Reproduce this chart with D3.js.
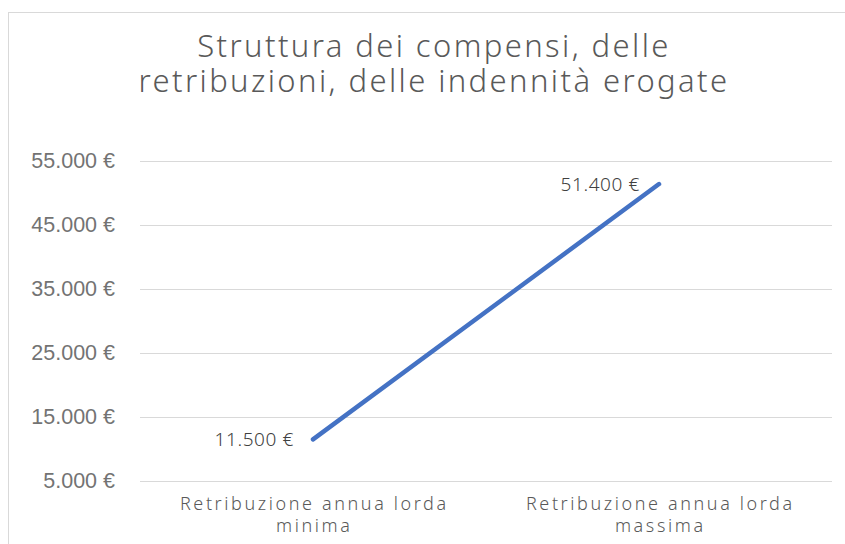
<!DOCTYPE html>
<html>
<head>
<meta charset="utf-8">
<script src="https://cdn.jsdelivr.net/npm/d3@7"></script>
<style>
  body { margin: 0; background: #fff; }
  svg { display: block; }
  .title, .cat, .lbl { font-family: "Noto Sans", "DejaVu Sans", sans-serif; font-weight: 300; }
  .yaxis text { font-family: "Liberation Sans", Arial, sans-serif; }
</style>
</head>
<body>
<div id="chart"></div>
<script>
// data
var categories = ["Retribuzione annua lorda minima", "Retribuzione annua lorda massima"];
var catLines = [["Retribuzione annua lorda", "minima"], ["Retribuzione annua lorda", "massima"]];
var values = [11500, 51400];
var yTicks = [5000, 15000, 25000, 35000, 45000, 55000];
var titleLines = ["Struttura dei compensi, delle", "retribuzioni, delle indennità erogate"];

var width = 845, height = 544;
var margin = {top: 161, right: 13, bottom: 63, left: 140};

var svg = d3.select("#chart").append("svg")
	.attr("width", width)
	.attr("height", height);

// chart frame (right and bottom edges run off the picture)
svg.append("rect")
	.attr("x", 8.5).attr("y", 12.5)
	.attr("width", 850).attr("height", 560)
	.style("fill", "none")
	.style("stroke", "#d9d9d9");

var x = d3.scaleBand()
	.domain(categories)
	.range([margin.left, width - margin.right]);

var y = d3.scaleLinear()
	.domain([5000, 55000])
	.range([height - margin.bottom, margin.top]);

// euro format, Italian style thousands
var it = d3.formatLocale({decimal: ",", thousands: ".", grouping: [3], currency: ["", " €"]});
var fmt = it.format("$,.0f");

// gridlines
svg.append("g").selectAll("line")
	.data(yTicks)
	.enter().append("line")
	.attr("x1", margin.left)
	.attr("x2", width - margin.right)
	.attr("y1", function(d) { return Math.round(y(d)) + 0.5; })
	.attr("y2", function(d) { return Math.round(y(d)) + 0.5; })
	.style("stroke", "#d9d9d9")
	.style("stroke-width", 1);

// y axis labels
var yAxis = svg.append("g")
	.attr("class", "yaxis")
	.attr("transform", "translate(" + (margin.left - 25) + ",0)")
	.call(d3.axisLeft(y).tickValues(yTicks).tickFormat(fmt).tickSize(0).tickPadding(0));
yAxis.select(".domain").remove();
yAxis.selectAll("text")
	.style("font-size", "21.5px")
	.style("fill", "#737373");

// category labels
var cat = svg.append("g").selectAll("text")
	.data(catLines)
	.enter().append("text")
	.attr("class", "cat")
	.attr("text-anchor", "middle")
	.attr("x", function(d, i) { return x(categories[i]) + x.bandwidth() / 2 + 1.3; })
	.attr("y", height - margin.bottom + 29)
	.style("font-size", "18px")
	.style("letter-spacing", "2.6px")
	.style("fill", "#595959");
cat.selectAll("tspan")
	.data(function(d) { return d; })
	.enter().append("tspan")
	.attr("x", function() { return d3.select(this.parentNode).attr("x"); })
	.attr("dy", function(d, i) { return i === 0 ? 0 : 22; })
	.text(function(d) { return d; });

// line
var pts = values.map(function(v, i) { return [x(categories[i]) + x.bandwidth() / 2, y(v)]; });
svg.append("path")
	.datum(pts)
	.attr("d", d3.line())
	.style("fill", "none")
	.style("stroke", "#4472c4")
	.style("stroke-width", 4.5)
	.style("stroke-linecap", "round");

// data labels
svg.append("g").selectAll("text")
	.data(pts)
	.enter().append("text")
	.attr("class", "lbl")
	.attr("text-anchor", "end")
	.attr("x", function(d) { return d[0] - 19; })
	.attr("y", function(d) { return d[1] + 7; })
	.style("font-size", "19px")
	.style("letter-spacing", "0.6px")
	.style("fill", "#404040")
	.text(function(d, i) { return fmt(values[i]); });

// title
svg.append("text")
	.attr("class", "title")
	.attr("text-anchor", "middle")
	.attr("y", 57)
	.style("font-size", "31px")
	.style("letter-spacing", "2.4px")
	.style("fill", "#595959")
	.selectAll("tspan")
	.data(titleLines)
	.enter().append("tspan")
	.attr("x", 434)
	.attr("dy", function(d, i) { return i === 0 ? 0 : 35; })
	.text(function(d) { return d; });
</script>
</body>
</html>
